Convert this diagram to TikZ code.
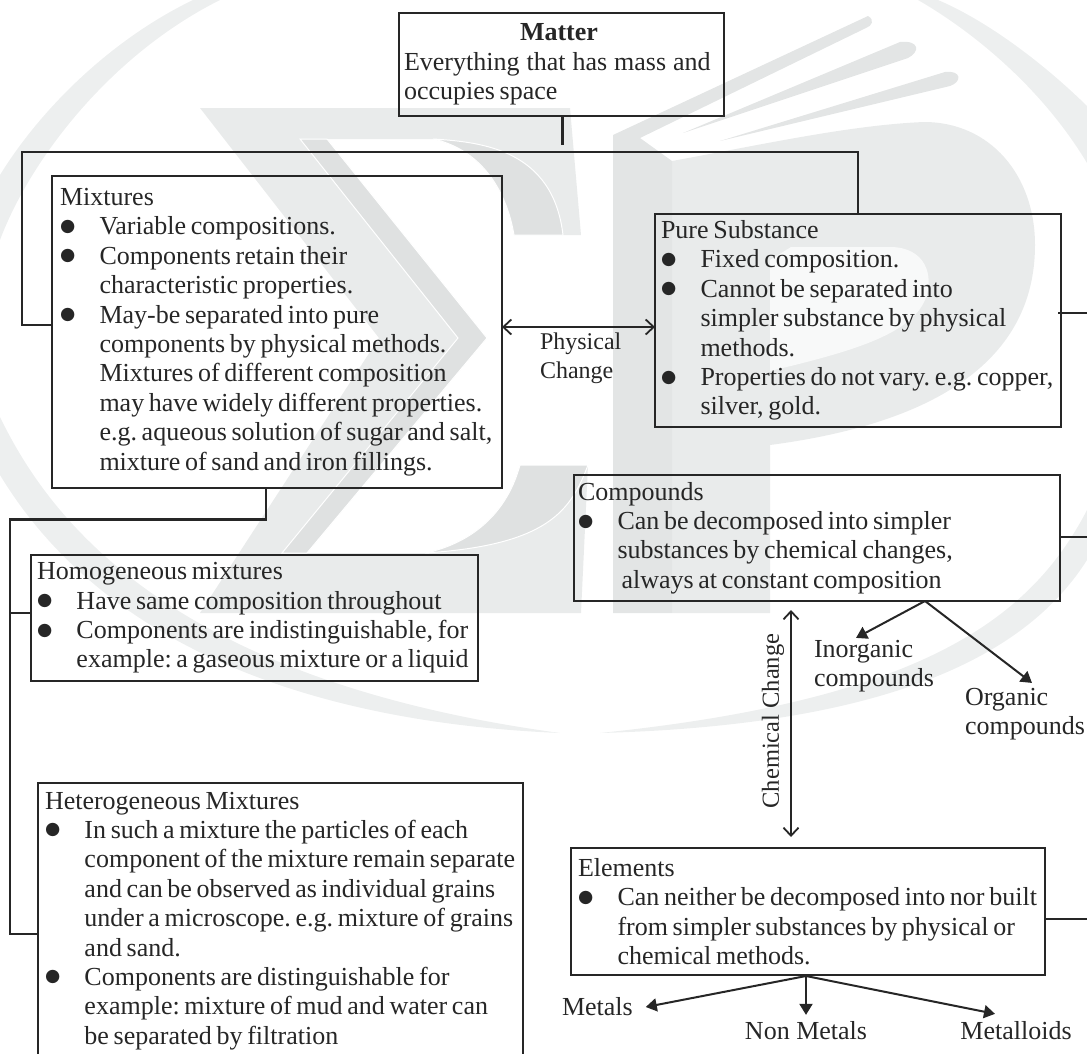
\documentclass[tikz,border=0pt]{standalone}
\usepackage{fontspec}
\setmainfont{Liberation Serif}[WordSpace=0.72]
\newfontfamily\dejavu{DejaVu Sans}
\usetikzlibrary{arrows.meta,calc}
\definecolor{ink}{HTML}{262626}
\definecolor{wmlight}{HTML}{E9EBEB}
\definecolor{wmdark}{HTML}{DFE1E1}
\definecolor{wmstem}{HTML}{E3E5E5}
\definecolor{wmring}{HTML}{EDEFEF}
\newlength{\indw}
\setlength{\indw}{39.5pt}
\newcommand{\Bul}[1]{\mbox{\makebox[\indw][l]{\raisebox{3.5pt}{\fontsize{17.5}{17.5}\selectfont\dejavu ●}}#1}}
\newcommand{\Ind}[1]{\mbox{\hspace*{\indw}#1}}
\newcommand{\Dn}[1]{\rule[-#1]{0pt}{#1}}
\frenchspacing
\tikzset{
  txtfont/.style={font=\fontsize{26}{29.4}\selectfont\frenchspacing,text=ink},
  box/.style={draw=ink,line width=2.2pt,anchor=north west,align=flush left,outer sep=0pt,inner ysep=0pt,inner xsep=7pt,txtfont},
  lbl/.style={align=left,anchor=west,inner sep=0pt,outer sep=0pt,txtfont},
  conn/.style={draw=ink,line width=2.2pt,line join=miter},
  dbl/.style={draw=ink,line width=1.8pt,{Straight Barb[length=8pt,width=15pt,line width=1.8pt]}-{Straight Barb[length=8pt,width=15pt,line width=1.8pt]}},
  tip/.style={draw=ink,line width=2pt,-{Triangle[length=11pt,width=13pt,fill=ink]}},
}
\begin{document}
\begin{tikzpicture}[x=1pt,y=-1pt]
\clip (0,0) rectangle (1087,1053);
% --- watermark ---
\fill[wmring] (193,0) .. controls (110,40) and (40,110) .. (0,175) -- (0,240) .. controls (30,160) and (110,55) .. (220,0) -- cycle;
\fill[wmring] (0,417) .. controls (50,520) and (170,680) .. (560,733) .. controls (300,722) and (100,640) .. (0,475) -- cycle;
\fill[wmring] (918,0) .. controls (970,30) and (1040,85) .. (1087,163) -- (1087,106) .. controls (1040,60) and (985,20) .. (938,0) -- cycle;
\fill[wmring] (1087,510) .. controls (1030,620) and (920,700) .. (600,733) .. controls (900,725) and (1030,650) .. (1087,560) -- cycle;
% C
\fill[wmlight] (200,108) -- (570,108) -- (581,235) -- (514,235) .. controls (507,193) and (483,150) .. (433,139) -- (327,139) -- (487,338) -- (307,553) -- (425,553) .. controls (464,545) and (505,520) .. (520,465) -- (588,465) -- (581,613) -- (200,613) -- (379,338) -- cycle;
\filldraw[fill=wmdark,draw=white,line width=1pt] (300,139) -- (327,139) -- (487,338) -- (307,553) -- (282,553) -- (458,338) -- cycle;
\filldraw[fill=wmdark,draw=white,line width=1pt] (433,139) .. controls (483,142) and (553,150) .. (563,235) -- (514,235) .. controls (507,193) and (483,150) .. (433,139) -- cycle;
\filldraw[fill=wmdark,draw=white,line width=1pt] (520,465) -- (588,465) .. controls (571,510) and (549,545) .. (425,553) .. controls (464,545) and (505,520) .. (520,465) -- cycle;
% P
\fill[wmlight] (672,161) .. controls (760,145) and (850,125) .. (924,122) .. controls (990,122) and (1035,175) .. (1035,245) .. controls (1035,345) and (960,420) .. (770,445) -- (770,613) -- (672,613) -- cycle;
\fill[white!70!wmlight] (791,247) -- (890,247) .. controls (925,247) and (935,275) .. (925,300) .. controls (910,335) and (850,352) .. (770,371) -- (770,260) -- cycle;
\fill[wmstem] (613,135) -- (868,16) .. controls (875,20) and (872,26) .. (866,28) -- (640,138) -- (672,161) -- (672,613) -- (613,613) -- cycle;
\fill[wmstem] (683,133) -- (900,42) .. controls (920,40) and (920,52) .. (908,58) -- cycle;
\fill[wmstem] (720,141) -- (945,72) .. controls (962,70) and (962,82) .. (950,86) -- cycle;
% --- boxes ---
\node[box,inner xsep=5pt,minimum width=325pt,minimum height=103pt,text width=315pt] (matter) at (399,13) {\makebox[310pt][c]{\textbf{Matter}}\\\mbox{\spaceskip=7pt Everything that has mass and}\\occupies space};
\node[box,inner xsep=8pt,minimum width=450pt,minimum height=312pt,text width=434pt] (mix) at (52,176) {Mixtures\\\Bul{Variable compositions.}\\\Bul{Components retain their}\\\Ind{characteristic properties.}\\\Bul{May-be separated into pure}\\\Ind{components by physical methods.}\\\Ind{Mixtures of different composition}\\\Ind{may have widely different properties.}\\\Ind{e.g. aqueous solution of sugar and salt,}\\\Ind{mixture of sand and iron fillings.}};
\node[box,inner xsep=6pt,minimum width=406pt,minimum height=213pt,text width=394pt] (pure) at (655,214) {Pure Substance\\\Bul{Fixed composition.}\\\Bul{Cannot be separated into}\\\Ind{simpler substance by physical}\\\Ind{methods.}\\\Bul{Properties do not vary. e.g. copper,}\\\Ind{silver, gold.}};
\node[box,inner xsep=4pt,minimum width=486pt,minimum height=126pt,text width=478pt] (cmp) at (574,475) {Compounds\\\Bul{Can be decomposed into simpler}\\\Ind{substances by chemical changes,}\\\Ind{\hspace*{4pt}always at constant composition}};
\node[box,inner xsep=7pt,minimum width=474pt,minimum height=127pt,text width=460pt] (elem) at (571,848) {Elements\\\Bul{Can neither be decomposed into nor built}\\\Ind{from simpler substances by physical or}\\\Ind{chemical methods.}};
\node[box,inner xsep=6pt,minimum width=447pt,minimum height=126pt,text width=435pt] (homo) at (31,555) {Homogeneous mixtures\\\Bul{Have same composition throughout}\\\Bul{Components are indistinguishable, for}\\\Ind{example: a gaseous mixture or a liquid}};
\node[box,inner xsep=7pt,minimum width=485pt,minimum height=330pt,text width=471pt] (hete) at (38,783) {Heterogeneous Mixtures\\\Bul{In such a mixture the particles of each}\\\Ind{component of the mixture remain separate}\\\Ind{and can be observed as individual grains}\\\Ind{under a microscope. e.g. mixture of grains}\\\Ind{and sand.}\\\Bul{Components are distinguishable for}\\\Ind{example: mixture of mud and water can}\\\Ind{be separated by filtration}\Dn{60pt}};
% --- labels ---
\node[lbl,font=\fontsize{24}{29}\selectfont] (physical) at (540,358) {Physical\\Change};
\node[lbl,rotate=90,anchor=center,font=\fontsize{24.5}{29}\selectfont] (chem) at (773,721) {Chemical\hspace{6pt}Change};
\node[lbl] (inorg) at (814,666) {Inorganic\\compounds};
\node[lbl] (org) at (965,714) {Organic\\compounds};
\node[lbl] (metals) at (562,1007) {Metals};
\node[lbl,anchor=center] (nonmet) at (806,1031) {Non\hspace{6.5pt}Metals};
\node[lbl,anchor=center] (metalloids) at (1016,1031) {Metalloids};
% --- connectors ---
\coordinate (gap) at ($(matter.south west)+(163,29)$);
\draw[conn,line width=3pt] (gap |- matter.south) -- (gap);
\draw[conn] ($(mix.north west)+(0,149)$) -| (22,152) -| (pure.north);
\draw[conn] ($(mix.south west)+(214,0)$) |- (10,519.5) |- (hete.north west |- 0,934);
\draw[conn] (10,613) -- (homo.west |- 0,613);
\coordinate (edgeA) at (1087,313);
\coordinate (edgeB) at (1087,537);
\coordinate (edgeC) at (1087,919);
\draw[conn] (edgeA -| pure.east) ++(-3,0) -- (edgeA);
\draw[conn] (edgeB -| cmp.east) -- (edgeB);
\draw[conn] (edgeC -| elem.east) -- (edgeC);
\draw[dbl] (mix.east |- 0,327) -- (pure.west |- 0,327);
\draw[dbl] ($(cmp.south west)+(217,9)$) -- ($(elem.north west)+(220,-11)$);
\coordinate (capex) at ($(cmp.south west)+(351,0)$);
\coordinate (eapex) at ($(elem.south west)+(235,1)$);
\draw[tip] (capex) -- ($(inorg.north west)+(42,-2)$);
\draw[tip] (capex) -- ($(org.north west)+(67,-5)$);
\draw[tip] (eapex) -- ($(metals.east)+(13,0)$);
\draw[tip] (eapex) -- ($(nonmet.north)+(0,-7)$);
\draw[tip] (eapex) -- ($(metalloids.north)+(-21,-8)$);
\end{tikzpicture}
\end{document}
